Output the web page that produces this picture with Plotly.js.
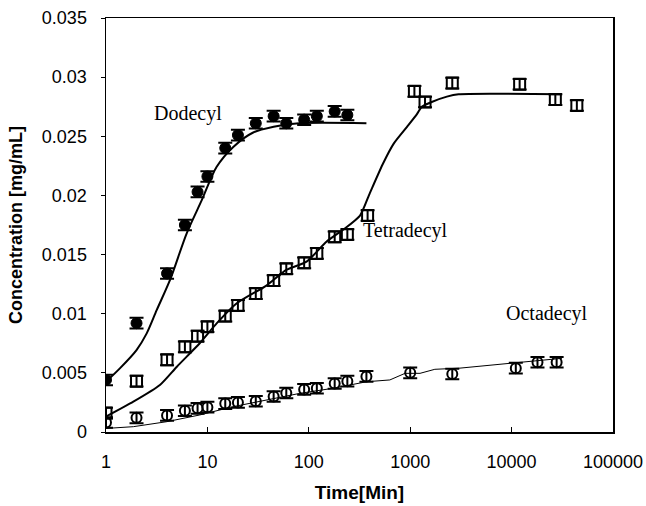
<!DOCTYPE html>
<html>
<head>
<meta charset="utf-8">
<script src="https://cdn.plot.ly/plotly-3.0.1.min.js"></script>
<style>html,body{margin:0;padding:0;background:#fff;}#chart{width:646px;height:506px;}</style>
</head>
<body>
<div id="chart"></div>
<script>
// Measured points
const dodecylTime = [1,2,4,6,8,10,15,20,30,45,60,90,120,180,240];
const dodecylConc = [0.0044,0.0092,0.0134,0.0175,0.0203,0.0216,0.0240,0.0251,0.0261,0.0267,0.0261,0.0264,0.0267,0.0271,0.0268];

const tetradecylTime = [1,2,4,6,8,10,15,20,30,45,60,90,120,180,240,380,1100,1400,2600,12000,27000,44000];
const tetradecylConc = [0.0016,0.0043,0.0061,0.0072,0.0081,0.0089,0.0098,0.0107,0.0117,0.0128,0.0138,0.0143,0.0151,0.0165,0.0167,0.0183,0.0288,0.0279,0.0295,0.0294,0.0281,0.0276];

const octadecylTime = [1,2,4,6,8,10,15,20,30,45,60,90,120,180,240,370,1000,2600,11000,18000,27800];
const octadecylConc = [0.0008,0.0012,0.0014,0.0018,0.0020,0.0021,0.0024,0.0025,0.0026,0.0030,0.0033,0.0036,0.0037,0.0041,0.0043,0.0047,0.0050,0.0049,0.0054,0.0059,0.0059];

// Fitted curves
const dodecylFitTime = [1,1.37,2.0,2.52,3.16,4.3,6.25,8.8,12.3,18,28,45,80,370];
const dodecylFitConc = [0.00425,0.00538,0.00693,0.00834,0.0103,0.0129,0.0168,0.0196,0.0224,0.0241,0.0253,0.0258,0.0261,0.0261];

const tetradecylFitTime = [1,1.86,3.4,5.0,8.4,12.4,19.5,38.5,60,95,150,218,320,400,540,690,930,1170,1300,1630,2300,3000,31400];
const tetradecylFitConc = [0.0013,0.00256,0.00397,0.00552,0.0075,0.0092,0.01088,0.0124,0.0137,0.0144,0.0161,0.0171,0.0183,0.0202,0.0227,0.0244,0.0258,0.0269,0.0275,0.0279,0.02835,0.02855,0.02855];

const octadecylFitTime = [1,1.86,3.96,8.4,17.9,38.5,82,175,372,630,890,1250,1750,3090,10400,31400];
const octadecylFitConc = [0.0003,0.00045,0.00087,0.00144,0.00214,0.0027,0.00327,0.0037,0.00425,0.0044,0.00496,0.00496,0.0053,0.0054,0.00586,0.00623];

const xTickVals = [1,10,100,1000,10000,100000];
const xTickText = ['1','10','100','1000','10000','100000'];
const yTickVals = [0,0.005,0.01,0.015,0.02,0.025,0.03,0.035];
const yTickText = ['0','0.005','0.01','0.015','0.02','0.025','0.03','0.035'];

const labelText = ['Dodecyl','Tetradecyl','Octadecyl'];
const labelTime = [6.4, 890, 22300];
const labelConc = [0.0269, 0.0170, 0.0100];

const errStyle = {type:'constant', value:0.00045, color:'#000', thickness:2, width:7};

const traces = [
  {x:dodecylFitTime, y:dodecylFitConc, mode:'lines', line:{color:'#000', width:2, shape:'spline', smoothing:0.8}, hoverinfo:'skip'},
  {x:tetradecylFitTime, y:tetradecylFitConc, mode:'lines', line:{color:'#000', width:2, shape:'spline', smoothing:0.6}, hoverinfo:'skip'},
  {x:octadecylFitTime, y:octadecylFitConc, mode:'lines', line:{color:'#000', width:1}, hoverinfo:'skip'},
  {x:dodecylTime, y:dodecylConc, mode:'markers', error_y:errStyle,
   marker:{symbol:'circle', size:11, color:'#000', line:{color:'#000', width:1}}},
  {x:tetradecylTime, y:tetradecylConc, mode:'markers', error_y:errStyle,
   marker:{symbol:'square-open', size:11, color:'#000', line:{color:'#000', width:2}}},
  {x:octadecylTime, y:octadecylConc, mode:'markers', error_y:errStyle,
   marker:{symbol:'circle-open', size:10, color:'#000', line:{color:'#000', width:2}}}
];

const layout = {
  width:646, height:506,
  margin:{l:106, r:33, t:18, b:74},
  paper_bgcolor:'#fff', plot_bgcolor:'#fff',
  showlegend:false,
  font:{family:'Liberation Sans, Arial, sans-serif', color:'#000', size:18},
  xaxis:{
    type:'log', range:[0,5], tickvals:xTickVals, ticktext:xTickText,
    ticks:'inside', ticklen:5, tickcolor:'#000', showgrid:false, zeroline:false,
    showline:true, linecolor:'#000', linewidth:1.5, mirror:true,
    tickfont:{size:18}, ticklabelstandoff:13,
    title:{text:'Time[Min]', font:{size:19, family:'Liberation Sans, Arial, sans-serif', weight:'bold'}, standoff:14}
  },
  yaxis:{
    range:[0,0.035], tickvals:yTickVals, ticktext:yTickText,
    ticks:'outside', ticklen:4, tickcolor:'#000', showgrid:false, zeroline:false,
    showline:true, linecolor:'#000', linewidth:1.5, mirror:true,
    tickfont:{size:18}, ticklabelstandoff:10,
    title:{text:'Concentration [mg/mL]', font:{size:18, family:'Liberation Sans, Arial, sans-serif', weight:'bold'}, standoff:14}
  },
  annotations: labelText.map((t, i) => ({
    x:Math.log10(labelTime[i]), y:labelConc[i], xref:'x', yref:'y', text:t, showarrow:false,
    font:{family:'Liberation Serif, Times New Roman, serif', size:20, color:'#000'}, xanchor:'center', yanchor:'middle'
  }))
};

Plotly.newPlot('chart', traces, layout, {displayModeBar:false, staticPlot:true});
</script>
</body>
</html>
